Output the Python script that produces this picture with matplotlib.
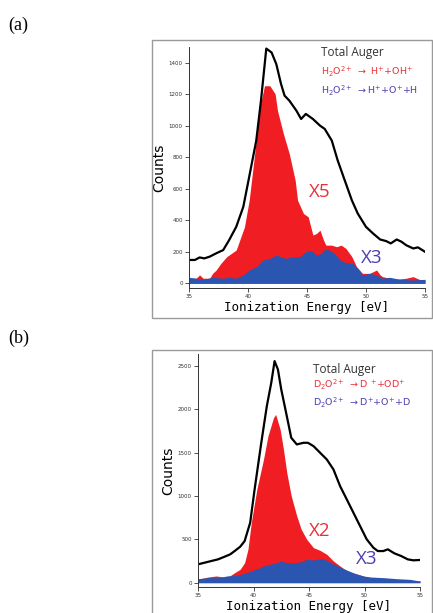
import matplotlib
matplotlib.use('Agg')
import matplotlib.pyplot as plt
from matplotlib.patches import Rectangle

plt.rcParams['mathtext.fontset'] = 'dejavusans'

# ---- panel (a): H2O ----
a_tot_x = [35, 35.5, 35.9, 36.3, 36.75, 37.3, 37.9, 38.4, 39, 39.6, 40.1, 40.7, 41.1, 41.55, 42,
           42.4, 42.8, 43.1, 43.5, 44.1, 44.5, 44.9, 45.5, 46.1, 46.5, 47.1, 47.6, 48.2, 48.8,
           49.3, 50.0, 50.6, 51.2, 51.7, 52.1, 52.6, 53, 53.4, 54, 54.4, 55]
a_tot_y = [148, 148, 164, 158, 169, 190, 211, 274, 358, 485, 675, 906, 1160, 1490, 1465,
           1391, 1265, 1191, 1160, 1096, 1043, 1075, 1043, 1001, 980, 906, 780, 653, 527,
           443, 358, 316, 278, 268, 253, 278, 264, 242, 221, 228, 200]

a_red_x = [35, 35.6, 35.9, 36.2, 36.75, 37, 37.3, 37.7, 38.2, 38.6, 39, 39.3, 39.7, 40.1, 40.6,
           41, 41.4, 41.85, 42.3, 42.5, 43, 43.5, 44, 44.2, 44.7, 45.1, 45.5, 45.8, 46.1, 46.4,
           46.6, 47.1, 47.5, 47.9, 48.3, 48.8, 49.2, 49.7, 50.3, 50.9, 51.2, 51.4, 52, 52.6,
           53.4, 54, 54.5, 55]
a_red_y = [32, 32, 53, 32, 32, 63, 84, 126, 169, 190, 211, 274, 358, 527, 843,
           1117, 1254, 1254, 1202, 1096, 949, 822, 653, 527, 443, 422, 306, 316, 337, 274,
           242, 242, 232, 242, 221, 169, 105, 63, 63, 84, 53, 42, 32, 25,
           32, 42, 25, 21]

a_blue_x = [35, 35.6, 36.2, 37, 37.9, 38.4, 39, 39.6, 40.1, 40.7, 41.3, 41.85, 42.4, 42.8, 43.2,
            43.8, 44.4, 44.9, 45.4, 45.8, 46.2, 46.5, 46.9, 47.3, 47.8, 48.3, 48.9, 49.3, 49.7,
            50.3, 50.9, 51.4, 52, 52.9, 54, 55]
a_blue_y = [38, 32, 25, 38, 32, 38, 32, 53, 84, 105, 148, 158, 179, 169, 158,
            169, 169, 200, 207, 179, 190, 215, 211, 190, 148, 131, 126, 95, 53,
            63, 53, 32, 38, 25, 21, 25]

# ---- panel (b): D2O ----
b_tot_x = [35, 35.6, 36.2, 36.8, 37.4, 37.9, 38.3, 38.8, 39.2, 39.7, 40.1, 40.7, 41.2, 41.6, 41.9,
           42.2, 42.5, 43, 43.4, 43.9, 44.5, 44.9, 45.4, 46, 46.6, 47.2, 47.8, 48.4, 49, 49.6,
           50.2, 50.8, 51.2, 51.7, 52.1, 52.7, 53.3, 53.9, 54.4, 55]
b_tot_y = [212, 231, 250, 269, 300, 327, 365, 415, 480, 692, 1077, 1615, 2038, 2308, 2558,
           2461, 2231, 1923, 1673, 1596, 1615, 1615, 1577, 1500, 1423, 1308, 1115, 962, 808, 654,
           500, 404, 365, 365, 385, 338, 308, 269, 258, 262]

b_red_x = [35, 35.9, 36.65, 37.3, 37.85, 38.3, 38.8, 39.2, 39.5, 39.8, 40.3, 40.9, 41.3, 41.8, 42,
           42.4, 42.7, 43, 43.4, 43.9, 44.3, 44.8, 45.4, 46, 46.6, 47.2, 47.8, 48.4, 49.1, 49.9,
           50.5, 51.7, 53.5, 55]
b_red_y = [38, 65, 77, 65, 77, 115, 154, 231, 385, 692, 1077, 1423, 1692, 1904, 1942,
           1769, 1538, 1269, 1000, 769, 615, 500, 404, 373, 327, 250, 192, 135, 108, 77,
           46, 38, 31, 19]

b_blue_x = [35, 35.9, 36.8, 37.6, 38.5, 39.4, 40, 40.6, 41, 41.5, 42.1, 42.5, 43, 43.6, 44.2,
            44.8, 45.4, 46, 46.4, 47, 47.6, 48.4, 49.1, 49.9, 50.6, 51.7, 52.9, 54.1, 55]
b_blue_y = [46, 58, 58, 77, 85, 115, 146, 173, 200, 212, 231, 250, 231, 231, 238,
            269, 262, 277, 269, 231, 192, 146, 108, 77, 65, 58, 46, 38, 19]

red = '#f01e23'
blue = '#2a55b0'
red_txt = '#e8303a'
blue_txt = '#4a3fb0'

fig = plt.figure(figsize=(4.33, 6.13), dpi=100)

# grey frames around each panel
for y0, h in [(40, 278), (350, 270)]:
    fig.add_artist(Rectangle((152 / 433, 1 - (y0 + h) / 613), 280 / 433, h / 613,
                             transform=fig.transFigure, fill=False,
                             edgecolor='#9a9a9a', lw=1.0))

fig.text(8 / 433, 1 - 25 / 613, '(a)', family='Liberation Serif', fontsize=13, va='center')
fig.text(8 / 433, 1 - 338 / 613, '(b)', family='Liberation Serif', fontsize=13, va='center')


def panel(rect, tx, ty, rx, ry, bx, by, ylim, yticks, legend, legpos, fac_pos, fac_txt):
    ax = fig.add_axes(rect)
    ax.fill_between(rx, ry, 0, color=red, lw=0)
    ax.fill_between(bx, by, 0, color=blue, lw=0)
    ax.plot(tx, ty, color='black', lw=1.6)
    ax.set_xlim(35, 55)
    ax.set_ylim(*ylim)
    ax.set_xticks([35, 40, 45, 50, 55])
    ax.set_yticks(yticks)
    ax.tick_params(labelsize=4, length=3, width=0.6, pad=1.5, colors='#333333')
    ax.spines['top'].set_visible(False)
    ax.spines['right'].set_visible(False)
    for s in ax.spines.values():
        s.set_linewidth(0.7)
        s.set_color('#333333')
    ax.set_ylabel('Counts', family='DejaVu Sans', fontsize=10, labelpad=2)
    ax.set_xlabel('Ionization Energy [eV]', family='DejaVu Sans Mono', fontsize=9, labelpad=1)
    ax.patch.set_alpha(0)
    lx, ly0, ly1, ly2 = legpos
    ax.text(lx, ly0, 'Total Auger', family='Open Sans', fontsize=8.5,
            color='#333333', va='center')
    ax.text(lx, ly1, legend[0], fontsize=6.8, color=red_txt, va='center')
    ax.text(lx, ly2, legend[1], fontsize=6.8, color=blue_txt, va='center')
    (fx1, fy1), (fx2, fy2) = fac_pos
    ax.text(fx1, fy1, fac_txt, family='Open Sans', fontsize=13.5,
            color=red_txt, ha='center', va='center')
    ax.text(fx2, fy2, 'X3', family='Open Sans', fontsize=13.5,
            color=blue_txt, ha='center', va='center')
    return ax


panel([189 / 433, 1 - 288 / 613, 236 / 433, 241 / 613],
      a_tot_x, a_tot_y, a_red_x, a_red_y, a_blue_x, a_blue_y,
      (-30, 1500), [0, 200, 400, 600, 800, 1000, 1200, 1400],
      [r'H$_2$O$^{2+}$ $\rightarrow$ H$^{+}$+OH$^{+}$', r'H$_2$O$^{2+}$ $\rightarrow$H$^{+}$+O$^{+}$+H'],
      (46.2, 1465, 1339, 1223), ((46.1, 580), (50.5, 160)), 'X5')

panel([198 / 433, 1 - 587 / 613, 222 / 433, 233 / 613],
      b_tot_x, b_tot_y, b_red_x, b_red_y, b_blue_x, b_blue_y,
      (-50, 2640), [0, 500, 1000, 1500, 2000, 2500],
      [r'D$_2$O$^{2+}$ $\rightarrow$D $^{+}$+OD$^{+}$', r'D$_2$O$^{2+}$ $\rightarrow$D$^{+}$+O$^{+}$+D'],
      (45.4, 2462, 2288, 2077), ((46.0, 596), (50.2, 269)), 'X2')

fig.savefig('out.png', dpi=100)
